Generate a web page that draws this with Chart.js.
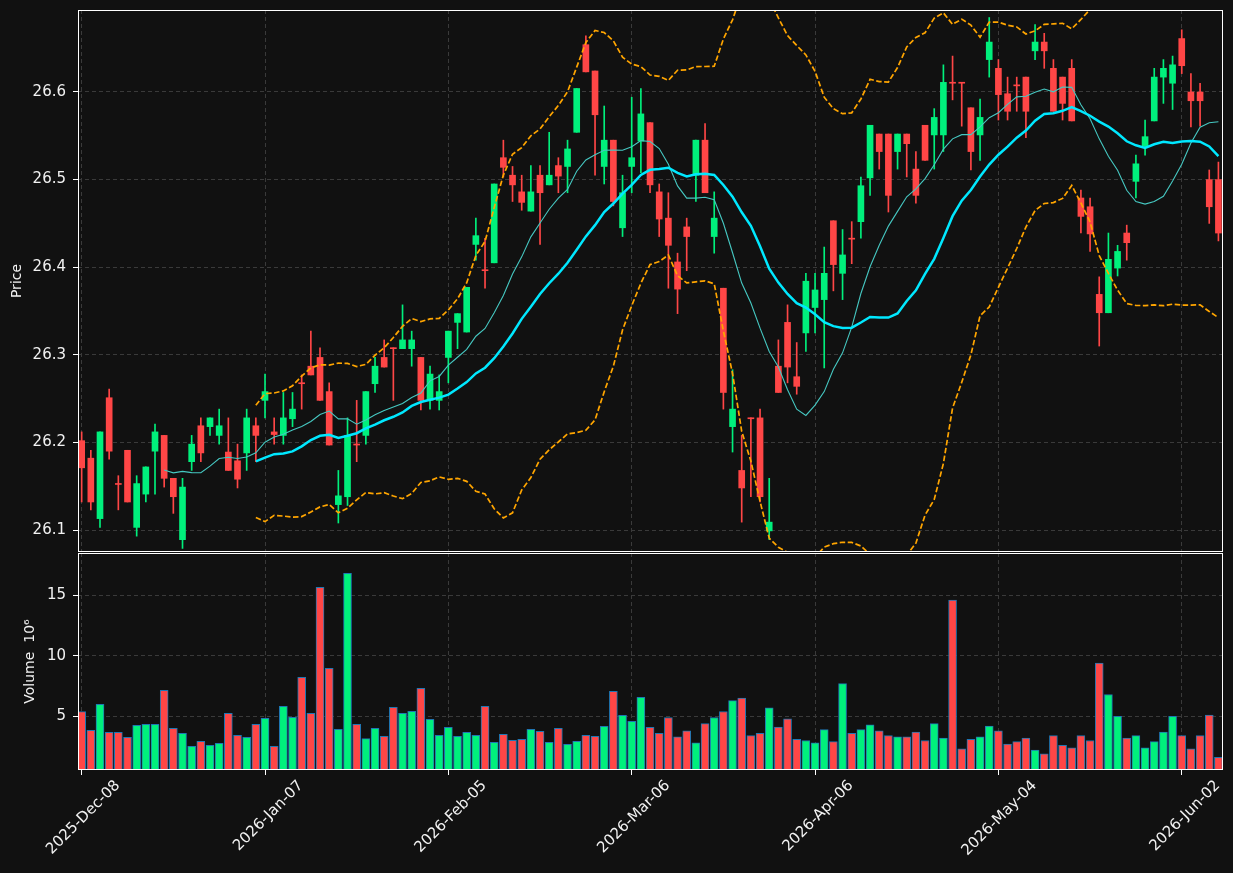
<!DOCTYPE html>
<html>
<head>
<meta charset="utf-8">
<script src="https://cdn.jsdelivr.net/npm/chart.js@4.4.1/dist/chart.umd.min.js"></script>
<style>
  html, body { margin: 0; padding: 0; background: #111111; }
  #wrap { position: relative; width: 1233px; height: 873px; overflow: hidden; }
  #price-chart { position: absolute; left: 0; top: 0; }
  #volume-chart { position: absolute; left: 0; top: 552px; }
</style>
</head>
<body>
<div id="wrap">
  <canvas id="price-chart" width="1233" height="553"></canvas>
  <canvas id="volume-chart" width="1233" height="321"></canvas>
</div>
<script>
// daily candles, 2025-Dec-08 .. 2026-Jun-08 (trading days only)

const opens = [
    26.202, 26.182, 26.113, 26.251, 26.153, 26.191, 26.103, 26.141, 26.190, 26.208,
    26.159, 26.089, 26.178, 26.219, 26.218, 26.208, 26.189, 26.179, 26.188, 26.219,
    26.248, 26.212, 26.208, 26.227, 26.268, 26.287, 26.297, 26.258, 26.129, 26.138,
    26.198, 26.208, 26.267, 26.297, 26.308, 26.307, 26.307, 26.297, 26.248, 26.248,
    26.297, 26.337, 26.326, 26.426, 26.397, 26.405, 26.525, 26.505, 26.486, 26.464,
    26.505, 26.494, 26.516, 26.515, 26.554, 26.654, 26.624, 26.515, 26.545, 26.445,
    26.515, 26.544, 26.565, 26.486, 26.456, 26.406, 26.446, 26.505, 26.545, 26.435,
    26.376, 26.218, 26.168, 26.228, 26.228, 26.099, 26.287, 26.337, 26.275, 26.325,
    26.354, 26.363, 26.453, 26.393, 26.433, 26.452, 26.502, 26.552, 26.552, 26.532,
    26.552, 26.512, 26.562, 26.551, 26.551, 26.611, 26.611, 26.582, 26.551, 26.637,
    26.627, 26.598, 26.608, 26.617, 26.647, 26.657, 26.627, 26.617, 26.627, 26.479,
    26.469, 26.369, 26.348, 26.399, 26.439, 26.498, 26.538, 26.567, 26.617, 26.610,
    26.661, 26.600, 26.600, 26.500, 26.500
];
const highs = [
    26.212, 26.191, 26.212, 26.261, 26.162, 26.191, 26.162, 26.172, 26.221, 26.208,
    26.159, 26.159, 26.208, 26.228, 26.228, 26.238, 26.228, 26.198, 26.238, 26.228,
    26.278, 26.228, 26.257, 26.257, 26.277, 26.327, 26.308, 26.268, 26.168, 26.228,
    26.248, 26.258, 26.297, 26.317, 26.308, 26.357, 26.327, 26.297, 26.287, 26.277,
    26.327, 26.347, 26.377, 26.456, 26.433, 26.495, 26.545, 26.515, 26.505, 26.516,
    26.516, 26.554, 26.525, 26.545, 26.604, 26.664, 26.624, 26.584, 26.545, 26.505,
    26.594, 26.604, 26.565, 26.495, 26.485, 26.416, 26.456, 26.545, 26.564, 26.486,
    26.376, 26.283, 26.208, 26.228, 26.238, 26.159, 26.317, 26.357, 26.314, 26.393,
    26.393, 26.423, 26.453, 26.443, 26.452, 26.503, 26.562, 26.552, 26.552, 26.552,
    26.552, 26.532, 26.562, 26.581, 26.631, 26.641, 26.611, 26.582, 26.592, 26.685,
    26.637, 26.617, 26.617, 26.617, 26.677, 26.667, 26.637, 26.617, 26.637, 26.488,
    26.479, 26.389, 26.439, 26.425, 26.448, 26.528, 26.568, 26.627, 26.637, 26.641,
    26.671, 26.621, 26.610, 26.511, 26.520
];
const lows = [
    26.132, 26.123, 26.103, 26.181, 26.123, 26.132, 26.093, 26.132, 26.141, 26.149,
    26.119, 26.079, 26.168, 26.178, 26.208, 26.198, 26.168, 26.148, 26.168, 26.178,
    26.228, 26.198, 26.198, 26.218, 26.238, 26.277, 26.248, 26.197, 26.108, 26.128,
    26.178, 26.198, 26.257, 26.286, 26.248, 26.307, 26.287, 26.237, 26.238, 26.237,
    26.268, 26.307, 26.326, 26.408, 26.376, 26.405, 26.503, 26.475, 26.465, 26.464,
    26.426, 26.494, 26.485, 26.485, 26.554, 26.623, 26.505, 26.495, 26.470, 26.435,
    26.485, 26.508, 26.485, 26.435, 26.376, 26.347, 26.396, 26.475, 26.485, 26.416,
    26.238, 26.189, 26.109, 26.138, 26.132, 26.089, 26.257, 26.268, 26.255, 26.304,
    26.325, 26.285, 26.373, 26.363, 26.404, 26.433, 26.482, 26.512, 26.463, 26.512,
    26.503, 26.473, 26.522, 26.512, 26.532, 26.591, 26.561, 26.511, 26.522, 26.617,
    26.568, 26.568, 26.578, 26.548, 26.637, 26.627, 26.578, 26.568, 26.567, 26.439,
    26.418, 26.310, 26.348, 26.390, 26.408, 26.479, 26.528, 26.567, 26.587, 26.580,
    26.621, 26.560, 26.561, 26.450, 26.430
];
const closes = [
    26.171, 26.132, 26.212, 26.190, 26.152, 26.132, 26.153, 26.172, 26.212, 26.159,
    26.138, 26.149, 26.198, 26.188, 26.228, 26.219, 26.168, 26.158, 26.228, 26.208,
    26.258, 26.209, 26.228, 26.238, 26.267, 26.277, 26.248, 26.197, 26.139, 26.208,
    26.197, 26.258, 26.287, 26.286, 26.307, 26.317, 26.317, 26.248, 26.278, 26.258,
    26.327, 26.347, 26.377, 26.436, 26.396, 26.495, 26.514, 26.494, 26.474, 26.486,
    26.485, 26.505, 26.504, 26.535, 26.604, 26.623, 26.574, 26.545, 26.475, 26.485,
    26.525, 26.575, 26.494, 26.455, 26.425, 26.375, 26.435, 26.545, 26.485, 26.456,
    26.257, 26.238, 26.148, 26.227, 26.138, 26.109, 26.257, 26.286, 26.264, 26.384,
    26.374, 26.393, 26.403, 26.414, 26.432, 26.493, 26.562, 26.532, 26.482, 26.552,
    26.541, 26.482, 26.522, 26.571, 26.611, 26.610, 26.610, 26.532, 26.571, 26.657,
    26.597, 26.578, 26.607, 26.578, 26.657, 26.647, 26.578, 26.587, 26.567, 26.458,
    26.438, 26.348, 26.409, 26.418, 26.428, 26.518, 26.549, 26.617, 26.627, 26.631,
    26.630, 26.590, 26.590, 26.469, 26.439
];
// volume in millions
const volumes = [
    5.39, 3.84, 5.99, 3.68, 3.68, 3.26, 4.26, 4.34, 4.34, 7.15,
    4.01, 3.60, 2.52, 2.93, 2.60, 2.77, 5.25, 3.43, 3.26, 4.34,
    4.83, 2.52, 5.83, 4.92, 8.22, 5.25, 15.66, 8.97, 3.93, 16.82,
    4.34, 3.15, 4.01, 3.35, 5.74, 5.25, 5.41, 7.31, 4.75, 3.43,
    4.09, 3.35, 3.68, 3.43, 5.83, 2.85, 3.51, 3.02, 3.10, 3.93,
    3.76, 2.85, 4.01, 2.69, 2.93, 3.43, 3.35, 4.17, 7.07, 5.08,
    4.59, 6.57, 4.09, 3.60, 4.90, 3.30, 3.80, 2.80, 4.40, 4.90,
    5.40, 6.30, 6.50, 3.40, 3.60, 5.70, 4.10, 4.80, 3.10, 3.00,
    2.80, 3.90, 2.90, 7.70, 3.60, 3.90, 4.30, 3.80, 3.40, 3.30,
    3.30, 3.70, 3.00, 4.40, 3.20, 14.60, 2.30, 3.10, 3.30, 4.20,
    3.80, 2.70, 2.90, 3.20, 2.20, 1.90, 3.40, 2.60, 2.40, 3.40,
    3.00, 9.40, 6.80, 5.00, 3.20, 3.40, 2.40, 2.90, 3.70, 5.00,
    3.40, 2.30, 3.40, 5.10, 1.60
];

const tickIndex = [0, 20, 40, 60, 80, 100, 120];
const tickLabels = ['2025-Dec-08', '2026-Jan-07', '2026-Feb-05', '2026-Mar-06', '2026-Apr-06', '2026-May-04', '2026-Jun-02'];
const priceTicks = [26.1, 26.2, 26.3, 26.4, 26.5, 26.6];
const volumeTicks = [5, 10, 15];

const UP = '#00f07c';
const DOWN = '#ff4646';
const GRID = '#3a3a3a';
const TEXT = '#f2f2f2';
const FONT = 'DejaVu Sans';

// moving averages / bollinger from the closes
function sma(values, n) {
    return values.map((v, i) => {
        if (i < n - 1) return null;
        let s = 0;
        for (let j = i - n + 1; j <= i; j++) s += values[j];
        return s / n;
    });
}
function band(values, n, k) {
    const mid = sma(values, n);
    return values.map((v, i) => {
        if (mid[i] === null) return null;
        let s = 0;
        for (let j = i - n + 1; j <= i; j++) s += (values[j] - mid[i]) ** 2;
        return mid[i] + k * Math.sqrt(s / (n - 1));
    });
}

const idx = closes.map((c, i) => i);
const colors = idx.map(i => closes[i] >= opens[i] ? UP : DOWN);
const toPoints = arr => idx.map(i => ({x: i, y: arr[i]}));

const ma10 = sma(closes, 10);
const ma20 = sma(closes, 20);
const upper = band(closes, 20, 2);
const lower = band(closes, 20, -2);

const frame = {
    id: 'frame',
    afterDraw(chart) {
        const {ctx, chartArea: a} = chart;
        ctx.save();
        ctx.strokeStyle = '#ffffff';
        ctx.lineWidth = 1;
        ctx.strokeRect(a.left + 0.5, a.top + 0.5, a.right - a.left - 1, a.bottom - a.top - 1);
        ctx.restore();
    }
};

// keep the plot boxes fixed, like the matplotlib axes
function fixY(s) {
    s.width = 78;
    s.paddingTop = 0;
    s.paddingBottom = 0;
}
function fixX(h) {
    return s => {
        s.height = h;
        s.paddingLeft = 0;
        s.paddingRight = 0;
    };
}

Chart.defaults.font.family = FONT;
Chart.defaults.font.size = 14;
Chart.defaults.color = TEXT;

const xMin = -0.4;
const xMax = 124.5;
const tickFont = { family: FONT, size: 15 };
const titleFont = { family: FONT, size: 14 };

//chart for price
const PRICE_Chart = document.getElementById('price-chart');

const priceChart = new Chart(PRICE_Chart, {
    data: {
        datasets: [
            {
                type: 'line',
                label: 'MA20',
                data: toPoints(ma20),
                borderColor: '#00e8ff',
                borderWidth: 2.5,
                pointRadius: 0,
            },
            {
                type: 'line',
                label: 'MA10',
                data: toPoints(ma10),
                borderColor: '#46c8c2',
                borderWidth: 1.1,
                pointRadius: 0,
            },
            {
                type: 'line',
                label: 'Upper',
                data: toPoints(upper),
                borderColor: '#ffa500',
                borderWidth: 1.7,
                borderDash: [5.5, 2.5],
                pointRadius: 0,
            },
            {
                type: 'line',
                label: 'Lower',
                data: toPoints(lower),
                borderColor: '#ffa500',
                borderWidth: 1.7,
                borderDash: [5.5, 2.5],
                pointRadius: 0,
            },
            {
                type: 'bar',
                label: 'Body',
                data: idx.map(i => ({x: i, y: [opens[i], closes[i]]})),
                backgroundColor: colors,
                barThickness: 6,
                minBarLength: 1,
                grouped: false,
            },
            {
                type: 'bar',
                label: 'Wick',
                data: idx.map(i => ({x: i, y: [lows[i], highs[i]]})),
                backgroundColor: colors,
                barThickness: 1,
                grouped: false,
            },
        ],
    },
    options: {
        responsive: false,
        animation: false,
        layout: { padding: { top: 10, right: 10, bottom: 1, left: 0 } },
        plugins: { legend: { display: false }, tooltip: { enabled: false } },
        scales: {
            x: {
                type: 'linear',
                min: xMin,
                max: xMax,
                offset: false,
                afterBuildTicks: s => { s.ticks = tickIndex.map(v => ({value: v})); },
                afterFit: fixX(0),
                ticks: { display: false },
                grid: { color: GRID, drawTicks: false, offset: false },
                border: { display: false, dash: [4, 3] },
            },
            y: {
                min: 26.0749,
                max: 26.6936,
                afterBuildTicks: s => { s.ticks = priceTicks.map(v => ({value: v})); },
                afterFit: fixY,
                ticks: { callback: v => v.toFixed(1), padding: 7, color: TEXT, font: tickFont },
                grid: { color: GRID, tickColor: '#ffffff', tickLength: 5, tickBorderDash: [] },
                border: { display: false, dash: [4, 3] },
                title: { display: true, text: 'Price', color: TEXT, font: titleFont, padding: { top: 9, bottom: 0 } },
            },
        },
    },
    plugins: [frame],
});

//chart for volume
const VOL_Chart = document.getElementById('volume-chart');

const volumeChart = new Chart(VOL_Chart, {
    type: 'bar',
    data: {
        datasets: [
            {
                label: 'Volume',
                data: idx.map(i => ({x: i, y: volumes[i]})),
                backgroundColor: colors,
                borderColor: '#1f77b4',
                borderWidth: 1,
                barThickness: 8,
            },
        ],
    },
    options: {
        responsive: false,
        animation: false,
        layout: { padding: { top: 1, right: 10, bottom: 0, left: 0 } },
        plugins: { legend: { display: false }, tooltip: { enabled: false } },
        scales: {
            x: {
                type: 'linear',
                min: xMin,
                max: xMax,
                offset: false,
                afterBuildTicks: s => { s.ticks = tickIndex.map(v => ({value: v})); },
                afterFit: fixX(103),
                ticks: {
                    autoSkip: false,
                    minRotation: 45,
                    maxRotation: 45,
                    labelOffset: 36,
                    padding: 2,
                    color: TEXT,
                    font: tickFont,
                    callback: v => tickLabels[tickIndex.indexOf(v)],
                },
                grid: { color: GRID, tickColor: '#ffffff', tickLength: 5, tickBorderDash: [], offset: false },
                border: { display: false, dash: [4, 3] },
            },
            y: {
                min: 0.56,
                max: 18.5,
                afterBuildTicks: s => { s.ticks = volumeTicks.map(v => ({value: v})); },
                afterFit: fixY,
                ticks: { padding: 7, color: TEXT, font: tickFont },
                grid: { color: GRID, tickColor: '#ffffff', tickLength: 5, tickBorderDash: [] },
                border: { display: false, dash: [4, 3] },
                title: { display: true, text: 'Volume  10\u2076', color: TEXT, font: titleFont, padding: { top: 22, bottom: 0 } },
            },
        },
    },
    plugins: [frame],
});
</script>
</body>
</html>
